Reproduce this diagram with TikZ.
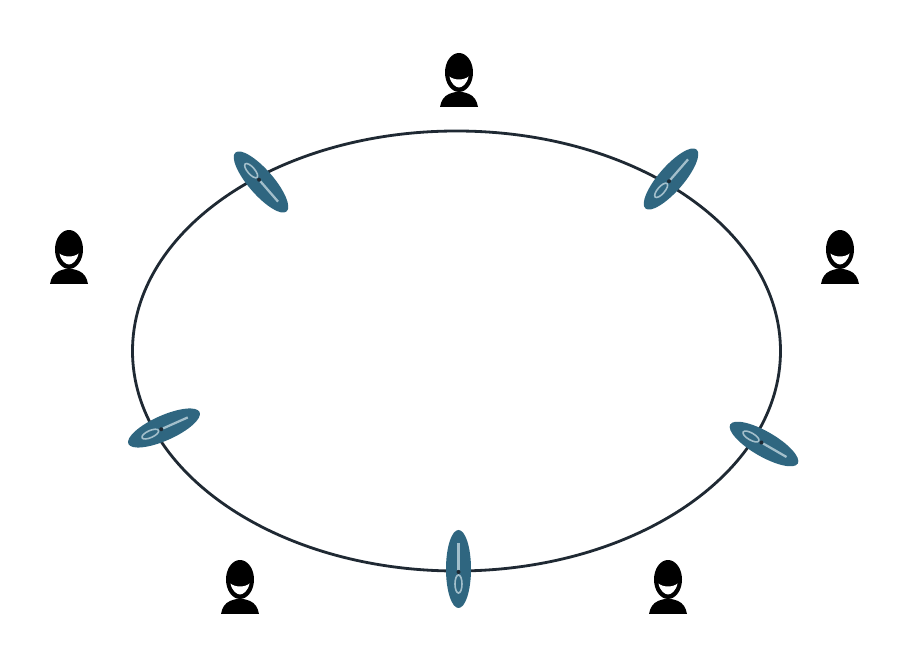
\documentclass[tikz,border=0pt]{standalone}
\definecolor{ringcol}{HTML}{1F2933}
\definecolor{bladecol}{HTML}{2F6680}
\definecolor{shaftcol}{HTML}{A3BFCB}
\tikzset{
    ringline/.style={draw=ringcol,line width=1.6pt},
    shaftline/.style={draw=shaftcol,line width=1.3pt},
    pics/paddle/.style={code={
        \fill[bladecol] (0,39) .. controls (6.9,39) and (12.5,21.5) .. (12.5,0)
            .. controls (12.5,-21.5) and (6.9,-39) .. (0,-39)
            .. controls (-6.9,-39) and (-12.5,-21.5) .. (-12.5,0)
            .. controls (-12.5,21.5) and (-6.9,39) .. (0,39) -- cycle;
        \draw[shaftline] (0,26) -- (0,-1);
        \draw[shaftline,line width=0.9pt] (0,-6) .. controls (2,-6) and (3.5,-10) .. (3.5,-15)
            .. controls (3.5,-20) and (2,-24) .. (0,-24)
            .. controls (-2,-24) and (-3.5,-20) .. (-3.5,-15)
            .. controls (-3.5,-10) and (-2,-6) .. (0,-6) -- cycle;
        \fill[ringcol] (0,-3) circle [radius=0.04cm];
    }},
    pics/person/.style={code={
        \fill[black] (0,7.5) ellipse [x radius=0.28cm, y radius=0.39cm];
        \fill[white] (-9.5,3.5) .. controls (-5,-0.5) and (5,-0.5) .. (9.5,3.5)
            .. controls (8,-4) and (3,-7.5) .. (0,-7.5)
            .. controls (-3,-7.5) and (-8,-4) .. (-9.5,3.5) -- cycle;
        \fill[black] (-19,-27) .. controls (-18,-21) and (-15,-16) .. (-10,-14)
            .. controls (-5,-12) and (-3,-12) .. (0,-12)
            .. controls (3,-12) and (5,-12) .. (10,-14)
            .. controls (15,-16) and (18,-21) .. (19,-27) -- cycle;
    }}
}
\begin{document}
\begin{tikzpicture}[x=0.02cm,y=0.02cm]
    \useasboundingbox (0,0) rectangle (914,670);
    \fill[white] (0,0) rectangle (914,670);

    \draw[ringline] (456.5,319) ellipse [x radius=324, y radius=220];

    % paddles round the ring
    \foreach \px/\py/\a in {261/488/-139,671/491/-41,164/242/-66,764/226/-120,458.5/101/0}
        \pic[rotate=\a] at (\px,\py) {paddle};

    % people outside it
    \foreach \px/\py in {459/590,69/413,840/413,240/83,668/83}
        \pic at (\px,\py) {person};
\end{tikzpicture}
\end{document}
